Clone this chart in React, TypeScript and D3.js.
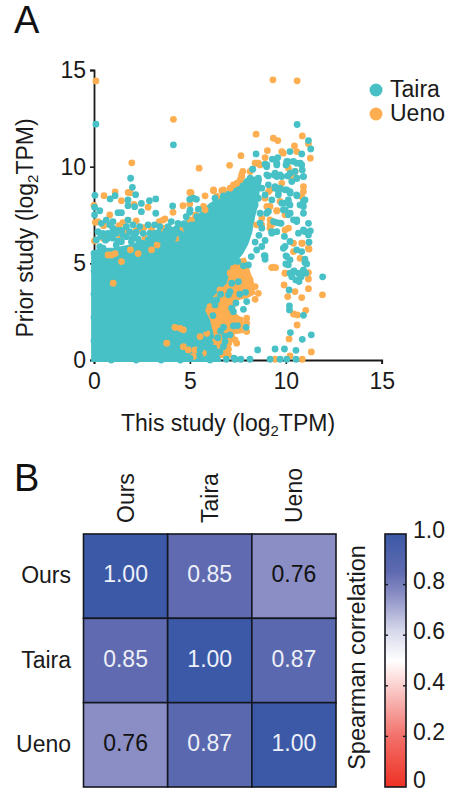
import React, { useEffect, useRef } from "react";
import * as d3 from "d3";

type Pt = [number, number];

const FONT = "'Liberation Sans', Arial, sans-serif";
const TEAL = "#48c1c6";
const ORANGE = "#fdae50";
const INK = "#1a1a1a";

const scatterTicks = [0, 5, 10, 15];
const legendNames = ["Taira", "Ueno"];
const heatNames = ["Ours", "Taira", "Ueno"];
const heatValues = [
  [1.0, 0.85, 0.76],
  [0.85, 1.0, 0.87],
  [0.76, 0.87, 1.0],
];
const colorStops = [0, 0.2, 0.5, 0.62, 0.76, 0.85, 1];
const colorRamp = ["#ee3124", "#f2706a", "#ffffff", "#d5d7ea", "#8a8ec4", "#5f6ab0", "#3c59a7"];
const colorTicks = [0.2, 0.4, 0.6, 0.8];
const colorLabels = ["0", "0.2", "0.4", "0.6", "0.8", "1.0"];

// dense parts of the cloud, outlines
const tairaMass: Pt[] = [
  [-0.15, -0.1], [-0.15, 5.6], [0.3, 5.8], [1, 5.8], [2, 6], [3, 6.3], [3.8, 6.5], [4.5, 7.1], [5, 7.3],
  [5.5, 7.6], [6, 8.1], [6.5, 8.4], [7, 8.8], [7.5, 9.15], [8, 9.45], [8.5, 9.5], [8.75, 9.3], [8.65, 8.8],
  [8.55, 8], [8.4, 7.4], [8.25, 6.6], [8.05, 6], [7.79, 5.52], [7.09, 4.66], [6.92, 3.97], [6.22, 3.28],
  [5.79, 2.59], [6.05, 2.07], [6.22, 1.38], [6.4, 0.69], [6.66, -0.1],
];
const uenoMass: Pt[] = [
  [7.9, 5.3], [8.35, 3.97], [8.4, 3.4], [8, 3.2], [7.5, 3.1], [7.3, 2.5], [7.8, 2.1], [7.8, 1.4], [7.2, 1.3],
  [7.2, 0.8], [6.9, 0.4], [6.9, 0.1], [6, 0.1], [5.5, 2], [6.5, 5],
];

const uenoPoints: Pt[] = [
  [0.1, 14.43], [4.14, 12.45], [1.97, 10.2], [5.48, 9.92], [0.52, 8.5], [1.1, 8.7], [1.78, 8.67], [1.89, 8.65],
  [5, 8.67], [6.23, 8.76], [6.66, 8.76], [0, 8], [1.43, 8.24], [2.82, 7.9], [2.09, 8.05], [4.64, 7.98], [4.99, 8.07],
  [4.12, 7.64], [3.6, 7.24], [5.3, 7.5], [0.07, 7.12], [0.2, 7.15], [0.03, 6.16], [3.29, 5.95], [1.77, 7.24], [0.82, 7.5],
  [1.43, 5.09], [0.73, 5.43], [1, 3.97], [0.92, 5.43], [0.07, 6.2], [0.47, 6.3], [1.6, 6.6], [2.47, 6.72], [2.2, 6.72],
  [1.35, 6.4], [2.65, 6.3], [3.5, 6.55], [4.3, 6.3], [3.6, 6.82], [1.1, 5.5], [2.3, 5.5], [3, 5.7], [1.9, 5.7],
  [0.5, 6.95], [1.3, 6.95], [2.6, 6.85], [3, 6.75], [1.5, 7.1], [3.4, 7.15], [4.5, 6.7], [3.7, 7.3], [2.2, 7.2],
  [9.33, 14.49], [10.59, 14.44], [8.45, 11.68], [9.35, 11.47], [9.58, 11.35], [10.86, 11.59], [11.18, 11.18], [10.45, 11.07],
  [9.04, 10.83], [7.66, 10.57], [7.07, 10.07], [11.28, 10.44], [9.87, 10.7], [8.92, 10.47], [8.4, 10.18], [7.7, 9.57],
  [10.92, 8.97], [10.92, 8.71], [10.83, 8.45], [9.53, 7.71], [9.18, 7.25], [9.26, 6.99], [8.74, 6.99], [9.96, 6.73],
  [11.18, 5.78], [10.83, 6.04], [10.4, 6.04], [11, 5.09], [9.35, 4.8], [9.96, 4.49], [11.18, 4.52], [9.96, 7.51],
  [10.4, 9.66], [9.79, 9.14], [9.18, 8.8], [8.92, 8.37], [8.48, 6.99], [7.76, 9.75], [7.7, 9.49], [8.14, 9.75],
  [7.44, 9.14], [7.1, 8.89], [6.75, 8.8], [6.23, 8.8], [5.79, 8.49], [5.06, 8.66], [5.71, 7.94], [8.49, 10.18],
  [8.66, 10.09], [7.27, 9.06], [7.62, 9.32], [6.4, 8.46], [5.79, 7.77], [5.27, 7.33], [5.01, 7.25],
  [9.1, 8.71], [9.18, 7.94], [9.53, 7.73], [9.7, 8.2], [10.23, 9.49], [10.14, 9.92], [10.49, 9.75], [9.18, 6.99],
  [9.18, 6.82], [10.14, 6.82], [8.75, 7.33], [9.01, 7.94], [9.79, 10.78], [10.57, 10.78], [8.57, 10.18],
  [7.27, 4.74], [7.62, 4.92], [8.14, 4.14], [8.4, 3.8], [8.57, 3.45], [8.4, 3.14], [7.96, 3.97], [7.44, 4.31],
  [6.57, 3.62], [6.05, 2.76], [6.57, 2.85], [6.92, 3.11], [7.53, 3.28], [6.66, 1.99], [7.01, 2.07], [6.31, 1.73],
  [5.88, 1.38], [4.49, 1.64], [4.22, 1.69], [4.66, 1.56], [7.18, 1.21], [7.35, 1.04], [7.44, 0.87], [7.01, 0.56],
  [7.01, 0.26], [7.96, 2.16], [7.96, 1.9], [7.96, 1.47], [7.62, 2.07], [4.66, 0.69], [4.92, 0.52], [5.27, 0.52],
  [3.79, 0.87], [5.18, 0.18], [6.57, 2.24], [6.22, 2.68], [6.4, 2.5], [5.53, 1.21], [5.7, 0.35], [6.31, 0.95],
  [7.1, 4.5], [7.8, 4.4], [7.7, 3.7], [7.3, 3.9], [6.9, 3.5], [6.75, 2.4], [7.3, 1.9],
  [9.44, 0.04], [10.86, 0.04], [10.22, 0.21], [11.33, 0.42], [10.17, 1.09], [10.59, 1.81], [10.4, 2.38], [10.6, 2.33],
  [11.04, 2.57], [10.83, 3.23], [10.1, 3.28], [10.48, 3.54], [11.91, 3.37], [11.18, 3.69], [9.91, 3.88], [9.26, 4.78],
  [9.47, 4.78], [11.18, 4.19], [9.96, 4.49], [10.4, 5.61], [10.74, 5.26], [11.21, 5.73], [10.86, 6.04],
];

const tairaPoints: Pt[] = [
  [0.1, 12.2], [4.14, 11.13], [1.91, 9.4], [2, 8.93], [0.05, 8.52], [2.17, 8.55], [0.84, 8.33], [1.1, 8.5], [1.77, 8.28],
  [2.89, 8.24], [3.22, 8.33], [1.77, 7.98], [2.47, 8.1], [2.12, 7.93], [4.1, 7.97], [4.99, 8.31], [5.34, 8.31],
  [4.99, 7.64], [3.22, 7.59], [2.47, 7.67], [1.25, 7.62], [1.43, 7.62], [0.03, 7.9], [0.03, 7.5], [0.3, 7.72],
  [0.64, 7.24], [0.99, 7.16], [0.82, 6.99], [0.38, 7.07], [0.21, 6.64], [0.47, 6.55], [0.73, 6.55], [0.99, 6.81],
  [0.73, 6.3], [0.99, 6.3], [0.12, 6.21], [0.3, 5.86], [1.77, 7.24], [2.03, 6.99], [1.69, 6.9], [1.86, 6.64],
  [2.12, 6.47], [1.69, 6.38], [1.43, 6.12], [1.95, 6.12], [2.38, 6.9], [2.82, 6.99], [3.16, 6.99], [2.9, 6.55],
  [3.16, 6.55], [2.56, 6.55], [2.82, 6.21], [3.25, 6.3], [3.43, 6.9], [3.86, 6.9], [3.6, 6.47], [4.03, 7.16],
  [4.38, 7.07], [4.03, 6.73], [4.47, 6.55], [4.82, 6.81], [5.08, 6.99], [5.43, 7.24], [1.16, 5.95], [2.3, 5.95],
  [0.47, 5.78], [3.69, 6.12], [4.12, 6.3], [0, 5.52], [4.81, 7.41], [5.18, 8.37], [5.01, 7.77], [5.44, 7.8],
  [6.31, 8.37], [6.75, 8.49], [8.28, 9.87], [5.36, 7.42],
  [1.45, 6.7], [1.25, 6.7], [0.6, 6.2], [1.25, 6.15], [0.35, 6.4], [2.3, 6.25],
  [2.5, 6.05], [3, 6.45], [3.45, 6.25], [3.9, 6.45], [4.3, 6.8], [4.6, 6.3], [4.7, 7.05],
  [1.5, 6.45], [2, 6.3], [2.2, 6.6], [0.9, 6.55], [1.15, 6.55], [3.35, 6.6], [3.75, 6.65], [4.2, 6.5],
  [8.57, 9.32], [9.01, 9.58], [9.44, 9.66], [9.79, 9.49], [9.53, 9.49], [10.23, 9.66], [10.58, 9.4], [10.92, 9.49],
  [10.05, 10.27], [10.4, 10.27], [10.75, 10.18], [9.53, 10.18], [9.01, 10.09], [8.49, 9.06], [8.75, 8.89], [9.44, 8.89],
  [9.62, 8.71], [10.05, 8.8], [10.23, 8.63], [10.58, 8.49], [9.27, 8.28], [8.92, 8.54], [9.88, 8.11], [10.14, 8.11],
  [10.92, 8.2], [9.97, 7.77], [10.23, 7.59], [9.36, 7.16], [9.7, 7.08], [8.66, 7.08], [8.75, 6.82], [9.27, 6.56],
  [10.57, 7.25], [11, 6.64], [8.66, 7.59], [8.4, 8.02], [8.57, 8.37], [8.14, 9.4],
  [10.59, 12.18], [11.18, 11.35], [11.3, 10.92], [8.45, 10.66], [10.22, 10.78], [10.83, 10.66], [9.3, 10.39], [9.58, 10.47],
  [10.13, 10.26], [10.57, 10.18], [10.83, 10.09], [8.92, 10.13], [9.53, 10.09], [10.01, 10.09], [10.86, 9.83], [10.48, 9.75],
  [8.27, 9.87], [9, 10], [10.92, 9.49], [9.4, 9.57], [9.7, 9.57], [9.09, 9.52], [8.57, 9.4], [8.13, 9.32], [10.1, 9.52],
  [10.31, 9.23], [10.57, 9.4], [9.44, 8.97], [9.7, 8.89], [9.09, 9.06], [9.96, 8.8], [10.22, 8.71], [10.57, 8.54],
  [9.61, 8.54], [11, 8.28], [10.13, 8.28], [9.79, 8.11], [10.74, 8.02], [10.92, 7.94], [10.22, 8.02], [9.87, 7.76],
  [10.13, 7.51], [10.92, 7.59], [10.4, 7.25], [10.57, 7.16], [9.53, 7.11], [9.75, 7.07], [8.92, 6.18], [9, 7.59],
  [9.09, 7.68], [9.26, 6.64], [9.53, 6.64], [11.18, 7.07], [10.92, 6.73], [11.28, 6.68], [10.66, 6.56], [11.18, 6.47],
  [9.93, 6.39], [10.22, 6.13], [11.21, 6.09], [9.96, 5.87], [9.87, 5.78], [10.57, 5.7], [10.83, 5.61], [10.01, 5.39],
  [11, 5.21], [10.13, 4.92], [11.92, 4.3], [10.4, 4.57], [10.92, 4.57],
  [10.05, 5.35], [10.22, 5.18], [10, 4.97], [8.88, 5.4], [8.92, 5.21], [11, 5.04], [11.09, 4.97],
  [10.22, 4.49], [10.43, 4.61], [10.66, 4.49], [10.92, 4.66], [11.04, 4.49], [10.8, 4.31], [10.52, 4.14], [10.69, 4.06],
  [10.31, 4.31], [10.17, 3.62], [10.19, 2.8], [10.19, 2.59], [10.92, 2.31], [10.24, 1.42], [10.86, 1.07], [11.33, 1.3],
  [8.53, 0.52], [9.44, 0.57], [9.93, 0.57], [10.53, 0.5],
  [7.35, 0.04], [7.66, 0.04], [8.13, 0.04], [9.18, 0.04], [9.7, 0.04], [10.05, 0.04], [10.53, 0.04],
  [7.09, 3.54], [6.4, 3.11], [6.31, 2.85], [7.18, 2.68], [7.27, 2.5], [7.79, 2.62], [7.96, 3.02], [5.79, 1.64],
  [5.04, 1.26], [6.05, 0.87], [6.14, 0.52], [5.7, 0.87], [5.53, 0.52], [6.83, 1.24], [7.09, 1.3], [7.27, 1.76],
  [7.48, 1.78], [7.93, 1.69], [6.83, 0.95], [6.57, 0.43], [5.53, 0.18], [6.05, 0], [5.01, 0.09],
  [7.79, 4.87], [8.05, 4.92], [7.18, 3.97], [7.53, 4.05], [7.01, 3.37], [8.92, 5.38], [8.48, 5.69], [8.75, 5.87],
  [6.6, 3.4], [6.1, 3.1], [6.2, 2.3], [6.6, 1.5], [6.75, 1.7], [6.45, 1.15], [6.75, 0.7], [7.3, 0.1], [6.9, 0.04],
  [7.5, 5.1], [8.2, 5.35], [8.4, 6.1], [8.6, 6.45], [7.6, 3.4], [7.9, 3.5], [7.4, 2.95],
  [0, 4.6], [0, 3.4], [0, 2.2], [0, 1], [0.9, 0], [2.2, 0], [3.5, 0], [4.5, 0],
];

export default function App() {
  const ref = useRef<SVGSVGElement>(null);

  useEffect(() => {
    const svg = d3.select(ref.current);
    svg.selectAll("*").remove();

    const x = d3.scaleLinear().domain([0, 15]).range([94, 381.7]);
    const y = d3.scaleLinear().domain([0, 15]).range([360, 70]);

    const axisStyle = (g: any) => {
      g.select(".domain").attr("stroke", INK).attr("stroke-width", 1.8);
      g.selectAll("line").attr("stroke", INK).attr("stroke-width", 1.6);
      g.selectAll("text").attr("font-family", FONT).attr("font-size", 23).attr("fill", INK);
    };

    svg.append("g").attr("transform", "translate(0,360)")
      .call(d3.axisBottom(x).tickValues(scatterTicks).tickSize(4).tickSizeOuter(4).tickPadding(9).tickFormat(d3.format("d")) as any)
      .call(axisStyle);
    svg.append("g").attr("transform", "translate(94,0)")
      .call(d3.axisLeft(y).tickValues(scatterTicks).tickSize(4).tickSizeOuter(4).tickPadding(4).tickFormat(d3.format("d")) as any)
      .call(axisStyle);

    const line = d3.line<Pt>().x((d) => x(d[0])).y((d) => y(d[1]));
    svg.append("path").attr("d", line(uenoMass) + "Z").attr("fill", ORANGE);
    svg.append("path").attr("d", line(tairaMass) + "Z").attr("fill", TEAL);

    const dots = (pts: Pt[], fill: string) =>
      svg.append("g").selectAll("circle").data(pts).join("circle")
        .attr("cx", (d) => x(d[0])).attr("cy", (d) => y(d[1])).attr("r", 3.4).attr("fill", fill);
    dots(uenoPoints, ORANGE);
    dots(tairaPoints, TEAL);

    // legend
    const legend = svg.append("g");
    legendNames.forEach((name, i) => {
      legend.append("circle").attr("cx", 376).attr("cy", 90 + i * 24).attr("r", 6.5).attr("fill", i ? ORANGE : TEAL);
      legend.append("text").attr("x", 390).attr("y", 97 + i * 24).attr("font-family", FONT).attr("font-size", 23).attr("fill", INK).text(name);
    });

    // panel letters
    [["A", 14, 33], ["B", 14, 491]].forEach(([t, px, py]) => {
      svg.append("text").attr("x", px as number).attr("y", py as number).attr("font-family", FONT).attr("font-size", 38).attr("fill", "#111").text(t as string);
    });

    const label = (tx: number, ty: number, rot: number, text: string, size = 23) => {
      const t = svg.append("text").attr("transform", `translate(${tx},${ty}) rotate(${rot})`)
        .attr("text-anchor", "middle").attr("font-family", FONT).attr("font-size", size).attr("fill", INK);
      return t.text(text);
    };
    const logLabel = (tx: number, ty: number, rot: number, head: string) => {
      const t = label(tx, ty, rot, "");
      t.append("tspan").text(head + " (log");
      t.append("tspan").attr("font-size", 15).attr("dy", 5).text("2");
      t.append("tspan").attr("dy", -5).text("TPM)");
    };
    logLabel(228, 431, 0, "This study");
    logLabel(33, 228, -90, "Prior study");

    // heatmap
    const band = d3.scaleBand<string>().domain(heatNames).range([83.5, 336]);
    const bandY = d3.scaleBand<string>().domain(heatNames).range([534, 787]);
    const color = d3.scaleLinear<string>().domain(colorStops).range(colorRamp);

    heatNames.forEach((rowName, r) => {
      heatNames.forEach((colName, c) => {
        const v = heatValues[r][c];
        svg.append("rect").attr("x", band(colName)!).attr("y", bandY(rowName)!)
          .attr("width", band.bandwidth()).attr("height", bandY.bandwidth())
          .attr("fill", color(v)).attr("stroke", "#14171f").attr("stroke-width", 1.6);
        svg.append("text").attr("x", band(colName)! + band.bandwidth() / 2).attr("y", bandY(rowName)! + bandY.bandwidth() / 2 + 6)
          .attr("text-anchor", "middle").attr("font-family", FONT).attr("font-size", 23)
          .attr("fill", v < 0.8 ? "#111" : "#eef0f8").text(v.toFixed(2));
      });
      svg.append("text").attr("x", 71).attr("y", bandY(rowName)! + bandY.bandwidth() / 2 + 7)
        .attr("text-anchor", "end").attr("font-family", FONT).attr("font-size", 23).attr("fill", INK).text(rowName);
      svg.append("text").attr("transform", `translate(${band(rowName)! + band.bandwidth() / 2 + 8},523) rotate(-90)`)
        .attr("font-family", FONT).attr("font-size", 23).attr("fill", INK).text(rowName);
    });

    // colour bar
    const barY = d3.scaleLinear().domain([0, 1]).range([787, 534]);
    const defs = svg.append("defs");
    const grad = defs.append("linearGradient").attr("id", "spearman").attr("x1", 0).attr("y1", 1).attr("x2", 0).attr("y2", 0);
    colorStops.forEach((s, i) => grad.append("stop").attr("offset", s).attr("stop-color", colorRamp[i]));
    svg.append("rect").attr("x", 385).attr("y", 534).attr("width", 21).attr("height", 253)
      .attr("fill", "url(#spearman)").attr("stroke", "#14171f").attr("stroke-width", 1.6);
    colorTicks.forEach((t) => {
      [[385, 388], [403, 406]].forEach(([a, b]) => {
        svg.append("line").attr("x1", a).attr("x2", b).attr("y1", barY(t)).attr("y2", barY(t)).attr("stroke", "#14171f").attr("stroke-width", 1.4);
      });
    });
    colorLabels.forEach((t, i) => {
      // the bottom label sits right on the page edge, keep it inside
      svg.append("text").attr("x", 413).attr("y", Math.min(barY(i * 0.2) + 4, 788)).attr("font-family", FONT).attr("font-size", 23).attr("fill", INK).text(t);
    });
    label(365, 657.5, -90, "Spearman correlation", 23.5);
  }, []);

  return <svg ref={ref} width={451} height={794} style={{ position: "absolute", left: 0, top: 0, background: "#fff" }} />;
}
